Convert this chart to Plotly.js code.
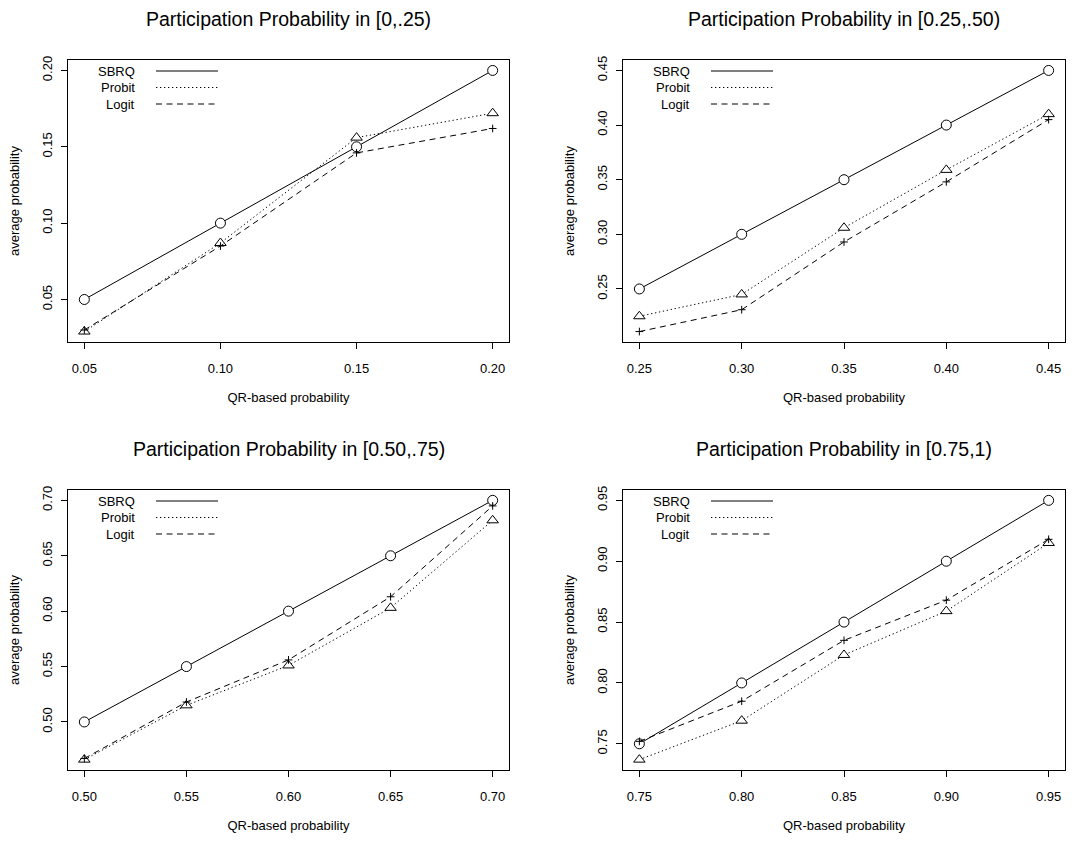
<!DOCTYPE html>
<html>
<head>
<meta charset="utf-8">
<script src="https://cdn.plot.ly/plotly-3.0.1.min.js"></script>
<style>
  html, body { margin: 0; padding: 0; background: #ffffff; }
  #chart { width: 1084px; height: 841px; }
</style>
</head>
<body>
<div id="chart"></div>
<script>
// QR-based probability on the x axis, one group per participation band
const panelTitles = [
  "Participation Probability in [0,.25)",
  "Participation Probability in [0.25,.50)",
  "Participation Probability in [0.50,.75)",
  "Participation Probability in [0.75,1)"
];
const seriesNames = ["SBRQ", "Probit", "Logit"];

const qr1 = [0.05, 0.10, 0.15, 0.20];
const sbrq1 = [0.05, 0.10, 0.15, 0.20];
const probit1 = [0.029, 0.087, 0.156, 0.172];
const logit1 = [0.030, 0.085, 0.146, 0.162];

const qr2 = [0.25, 0.30, 0.35, 0.40, 0.45];
const sbrq2 = [0.25, 0.30, 0.35, 0.40, 0.45];
const probit2 = [0.225, 0.245, 0.306, 0.359, 0.410];
const logit2 = [0.211, 0.231, 0.293, 0.348, 0.405];

const qr3 = [0.50, 0.55, 0.60, 0.65, 0.70];
const sbrq3 = [0.50, 0.55, 0.60, 0.65, 0.70];
const probit3 = [0.466, 0.515, 0.551, 0.603, 0.682];
const logit3 = [0.467, 0.518, 0.556, 0.613, 0.695];

const qr4 = [0.75, 0.80, 0.85, 0.90, 0.95];
const sbrq4 = [0.75, 0.80, 0.85, 0.90, 0.95];
const probit4 = [0.737, 0.769, 0.823, 0.859, 0.915];
const logit4 = [0.752, 0.785, 0.835, 0.868, 0.918];

const panels = [
  { x: qr1, ys: [sbrq1, probit1, logit1] },
  { x: qr2, ys: [sbrq2, probit2, logit2] },
  { x: qr3, ys: [sbrq3, probit3, logit3] },
  { x: qr4, ys: [sbrq4, probit4, logit4] }
];

const W = 1084, H = 841;
const FONT = "Liberation Sans, Arial, Helvetica, sans-serif";
const INK = "#000000";

// plot boxes in pixels (left, right, top, bottom)
const boxes = [
  { l: 68,  r: 509,  t: 60,  b: 342 },
  { l: 623, r: 1065, t: 60,  b: 342 },
  { l: 68,  r: 509,  t: 490, b: 770 },
  { l: 623, r: 1065, t: 490, b: 770 }
];

const lineStyles = [
  { dash: "solid", symbol: "circle", size: 10, fill: "#ffffff" },
  { dash: "1.3px,2.7px", symbol: "triangle-up", size: 10, fill: "#ffffff" },
  { dash: "6px,4.5px", symbol: "cross-thin-open", size: 5.5, fill: INK }
];

// axis limits padded by 4% of the data span on each side
function paddedRange(arrs) {
  const all = [].concat(...arrs);
  const lo = Math.min(...all), hi = Math.max(...all);
  const pad = 0.04 * (hi - lo);
  return [lo - pad, hi + pad];
}

const traces = [];
const layout = {
  width: W, height: H,
  margin: { l: 0, r: 0, t: 0, b: 0 },
  paper_bgcolor: "#ffffff",
  plot_bgcolor: "#ffffff",
  showlegend: false,
  font: { family: FONT, size: 13, color: INK },
  annotations: [],
  shapes: []
};

panels.forEach((p, i) => {
  const n = i + 1;
  const xa = n === 1 ? "x" : "x" + n;
  const ya = n === 1 ? "y" : "y" + n;
  const box = boxes[i];
  const bw = box.r - box.l, bh = box.b - box.t;

  p.ys.forEach((ys, k) => {
    const st = lineStyles[k];
    traces.push({
      type: "scatter",
      mode: "lines+markers",
      name: seriesNames[k],
      x: p.x, y: ys,
      xaxis: xa, yaxis: ya,
      line: { color: INK, width: 1, dash: st.dash },
      marker: {
        symbol: st.symbol, size: st.size, color: st.fill,
        line: { color: INK, width: 1 }
      },
      cliponaxis: false,
      hoverinfo: "x+y+name"
    });
  });

  const common = {
    showgrid: false, zeroline: false,
    showline: true, mirror: true, linecolor: INK, linewidth: 1,
    ticks: "outside", ticklen: 6, tickwidth: 1, tickcolor: INK,
    tickformat: ".2f", dtick: 0.05,
    tickfont: { family: FONT, size: 13, color: INK },
    automargin: false, fixedrange: true
  };

  layout[xa === "x" ? "xaxis" : "xaxis" + n] = Object.assign({}, common, {
    domain: [box.l / W, box.r / W],
    anchor: ya,
    range: paddedRange([p.x]),
    tick0: p.x[0],
    ticklabelstandoff: 8,
    title: { text: "QR-based probability", font: { family: FONT, size: 13, color: INK }, standoff: 18 }
  });
  layout[ya === "y" ? "yaxis" : "yaxis" + n] = Object.assign({}, common, {
    domain: [1 - box.b / H, 1 - box.t / H],
    anchor: xa,
    range: paddedRange(p.ys),
    tick0: 0,
    tickangle: -90,
    ticklabelstandoff: 4,
    title: { text: "average probability", font: { family: FONT, size: 13, color: INK }, standoff: 17 }
  });

  // panel heading
  layout.annotations.push({
    text: panelTitles[i],
    xref: xa + " domain", yref: ya + " domain",
    x: 0.5, y: 1, xanchor: "center", yanchor: "middle",
    yshift: 41, showarrow: false,
    font: { family: FONT, size: 19.5, color: INK }
  });

  // key in the upper-left corner: label, then line sample
  const rowOffsets = [11, 27.5, 44];
  seriesNames.forEach((name, k) => {
    layout.annotations.push({
      text: name,
      xref: xa + " domain", yref: ya + " domain",
      x: 69 / bw, y: 1 - rowOffsets[k] / bh,
      xanchor: "right", yanchor: "middle", showarrow: false,
      font: { family: FONT, size: 13, color: INK }
    });
    layout.shapes.push({
      type: "line",
      xref: xa + " domain", yref: ya + " domain",
      x0: 88 / bw, x1: 150 / bw,
      y0: 1 - rowOffsets[k] / bh, y1: 1 - rowOffsets[k] / bh,
      line: { color: INK, width: 1, dash: lineStyles[k].dash }
    });
  });
});

Plotly.newPlot("chart", traces, layout, { displayModeBar: false, staticPlot: true });
</script>
</body>
</html>
